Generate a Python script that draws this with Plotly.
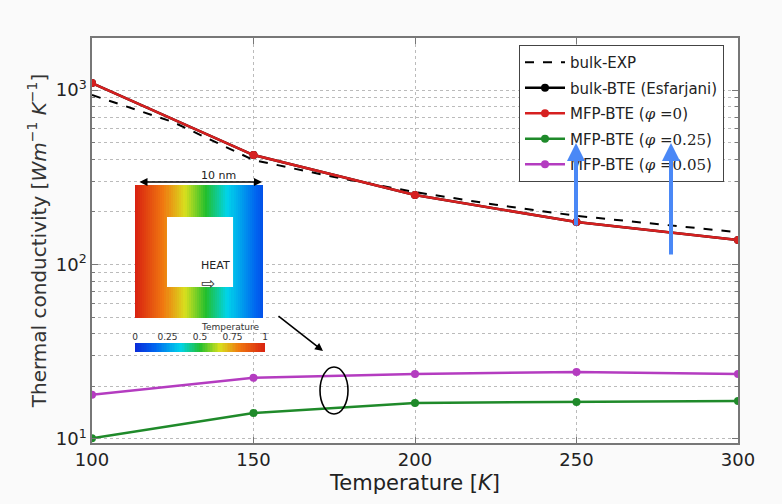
import numpy as np
import plotly.graph_objects as go

# ---------------- data ----------------
T = [100, 150, 200, 250, 300]
bulk_exp_T = [100, 125, 150, 175, 200, 225, 250, 275, 300]
bulk_exp = [936, 656, 397, 317, 260, 220, 190, 170, 153]
bulk_bte = [1096, 424, 250, 175, 138]
mfp_phi0 = [1096, 424, 250, 175, 138]
mfp_phi025 = [10.1, 14.1, 16.1, 16.3, 16.5]
mfp_phi005 = [17.9, 22.4, 23.6, 24.2, 23.6]

x_ticks = [100, 150, 200, 250, 300]
y_major = [10, 100, 1000]
y_major_text = ["10<sup>1</sup>", "10<sup>2</sup>", "10<sup>3</sup>"]
y_minor = [20, 30, 40, 50, 60, 70, 80, 90, 200, 300, 400, 500, 600, 700, 800, 900, 2000]
cbar_ticks = [0, 0.25, 0.5, 0.75, 1]
cbar_text = ["0", "0.25", "0.5", "0.75", "1"]

# plot-area geometry helpers (pixels -> paper)
L, R, TOP, BOT = 92, 738, 38, 443
W, H = 782, 504
PW, PH = R - L, BOT - TOP


def px(xp):
    return (xp - L) / PW


def py(yp):
    return (BOT - yp) / PH


def xdata(xp):
    return 100 + (xp - L) / PW * 200


fig = go.Figure()

fig.add_trace(go.Scatter(x=bulk_exp_T, y=bulk_exp, mode="lines", name="bulk-EXP", legendgroup="a",
                         line=dict(color="black", width=2, dash="dash")))
fig.add_trace(go.Scatter(x=T, y=bulk_bte, mode="lines+markers", name="bulk-BTE (Esfarjani)",
                         legendgroup="b",
                         line=dict(color="black", width=2.5), marker=dict(size=8, color="black")))
fig.add_trace(go.Scatter(x=T, y=mfp_phi0, mode="lines+markers", legendgroup="c",
                         name="MFP-BTE (<span style='font-family:DejaVu Serif'><i>φ</i> =0</span>)",
                         line=dict(color="#d62020", width=2.5), marker=dict(size=8, color="#d62020")))
fig.add_trace(go.Scatter(x=T, y=mfp_phi025, mode="lines+markers", legendgroup="d",
                         name="MFP-BTE (<span style='font-family:DejaVu Serif'><i>φ</i> =0.25</span>)",
                         line=dict(color="#1f8a2a", width=2.5), marker=dict(size=8, color="#1f8a2a")))
fig.add_trace(go.Scatter(x=T, y=mfp_phi005, mode="lines+markers", legendgroup="e",
                         name="MFP-BTE (<span style='font-family:DejaVu Serif'><i>φ</i> =0.05</span>)",
                         line=dict(color="#b43cc0", width=2.5), marker=dict(size=8, color="#b43cc0")))

# ---------------- inset: temperature field ----------------
jet = [[0.0, "#0a2ad8"], [0.15, "#0064f0"], [0.35, "#00d4ea"], [0.5, "#22bf2e"],
       [0.65, "#d8e01e"], [0.8, "#f07810"], [1.0, "#d82010"]]
nx, ny = 64, 64
gx = np.linspace(0, 1, nx)
gy = np.linspace(0, 1, ny)
Z = np.tile(np.clip(1.0 - 0.9 * gx, 0, 1), (ny, 1))
fig.add_trace(go.Heatmap(x=gx, y=gy, z=Z, colorscale=jet, zmin=0, zmax=1, showscale=False,
                         xaxis="x2", yaxis="y2", hoverinfo="skip", showlegend=False))
# colorbar strip
cb = np.linspace(0, 1, 80)
fig.add_trace(go.Heatmap(x=cb, y=[0], z=[cb], colorscale=jet, zmin=0, zmax=1, showscale=False,
                         xaxis="x3", yaxis="y3", hoverinfo="skip", showlegend=False))

axis_line = dict(showline=True, linecolor="#777", linewidth=1.5, mirror="allticks")
grid = dict(showgrid=True, gridcolor="#bbb", griddash="dot", gridwidth=1)

fig.update_layout(
    width=W, height=H,
    margin=dict(l=L, r=W - R, t=TOP, b=H - BOT),
    paper_bgcolor="#fafafa", plot_bgcolor="white",
    font=dict(family="DejaVu Sans", color="#222"),
    xaxis=dict(range=[100, 300], tickvals=x_ticks, ticks="inside", ticklen=6, tickcolor="#777",
               tickfont=dict(size=18), zeroline=False,
               title=dict(text="Temperature [<i>K</i>]", font=dict(size=21), standoff=6),
               **grid, **axis_line),
    yaxis=dict(type="log", range=[0.977, 3.298], tickvals=y_major, ticktext=y_major_text,
               ticks="inside", ticklen=6, tickcolor="#777",
               minor=dict(tickvals=y_minor, ticks="inside", ticklen=3, tickcolor="#777",
                          showgrid=True, gridcolor="#bbb", griddash="dot", gridwidth=1),
               tickfont=dict(size=18),
               title=dict(text="Thermal conductivity [<i>Wm</i><sup>−1</sup> <i>K</i><sup>−1</sup>]",
                          font=dict(size=20, color="#333"), standoff=4),
               **grid, **axis_line),
    xaxis2=dict(domain=[px(135), px(263)], range=[0, 1], visible=False, anchor="y2"),
    yaxis2=dict(domain=[py(318), py(185)], range=[0, 1], visible=False, anchor="x2"),
    xaxis3=dict(domain=[px(135), px(265)], range=[0, 1], anchor="y3", side="top",
                tickvals=cbar_ticks, ticktext=cbar_text, ticks="", showgrid=False,
                tickfont=dict(size=9, color="#333"), showline=False, zeroline=False),
    yaxis3=dict(domain=[py(352), py(343)], range=[-0.5, 0.5], visible=False, anchor="x3"),
    legend=dict(x=px(519), y=py(45), xanchor="left", yanchor="top",
                bgcolor="white", bordercolor="#444", borderwidth=1,
                font=dict(size=15, color="#222"), tracegroupgap=3, itemwidth=40),
    showlegend=True,
)

# hole in the inset
fig.add_shape(type="rect", xref="x2", yref="y2", x0=0.25, x1=0.766, y0=0.233, y1=0.76,
              fillcolor="white", line=dict(width=0), layer="above")

# ellipse around the low curves
fig.add_shape(type="circle", xref="x", yref="paper", x0=xdata(320), x1=xdata(348),
              y0=py(414), y1=py(367), line=dict(color="black", width=1.6))

annotations = [
    # blue arrows
    dict(x=xdata(576), y=py(143), xref="x", yref="paper", ax=0, ay=84, showarrow=True, text="",
         arrowhead=2, arrowsize=0.9, arrowwidth=4, arrowcolor="#4a88f6", standoff=0),
    dict(x=xdata(671), y=py(143), xref="x", yref="paper", ax=0, ay=113, showarrow=True, text="",
         arrowhead=2, arrowsize=0.9, arrowwidth=4, arrowcolor="#4a88f6", standoff=0),
    # black arrow
    dict(x=xdata(323), y=py(351), xref="x", yref="paper", ax=-46, ay=-36, showarrow=True, text="",
         arrowhead=2, arrowsize=1, arrowwidth=1.6, arrowcolor="black", standoff=0),
    # 10 nm double arrow
    dict(x=px(262), y=py(182), xref="paper", yref="paper", ax=-124, ay=0, showarrow=True, text="",
         arrowhead=2, startarrowhead=2, arrowside="end+start", arrowsize=1, arrowwidth=1.6,
         arrowcolor="black", standoff=0, startstandoff=0),
    dict(x=px(199), y=py(167), xref="paper", yref="paper", text="10 nm", showarrow=False,
         font=dict(size=11, color="#222")),
    dict(x=px(199), y=py(265), xref="paper", yref="paper", text="HEAT", showarrow=False,
         font=dict(size=11, color="#222")),
    dict(x=px(199), y=py(283), xref="paper", yref="paper", text="⇨", showarrow=False,
         font=dict(size=17, color="#333")),
    dict(x=px(199), y=py(334), xref="paper", yref="paper", text="Temperature", showarrow=False,
         font=dict(size=9, color="#333")),
]
fig.update_layout(annotations=annotations)

fig.write_html("out.html")
